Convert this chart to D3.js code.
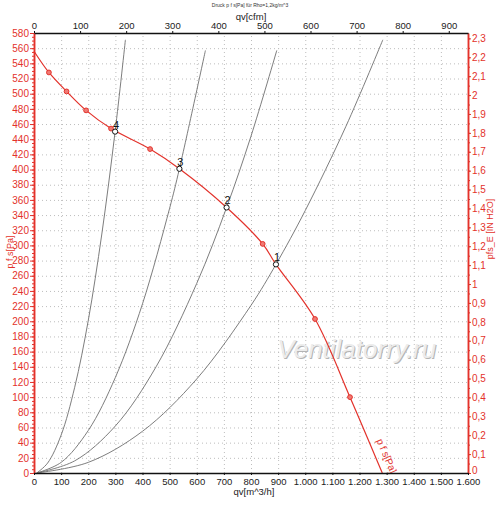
<!DOCTYPE html>
<html>
<head>
<meta charset="utf-8">
<script src="https://cdn.jsdelivr.net/npm/d3@7"></script>
<style>
  body { margin: 0; background: #fff; }
  svg { display: block; font-family: "Liberation Sans", Arial, sans-serif; }
  .grid line { stroke: #bdbdbd; stroke-dasharray: 1,3; }
  .grid .domain { display: none; }
</style>
</head>
<body>
<svg id="chart"></svg>
<script>
// fan curve p f s [Pa] over qv [m^3/h]
const fanFlow     = [0, 55, 120, 192, 284, 428, 536, 710, 843, 892, 1036, 1165, 1284];
const fanPressure = [556, 528, 503, 478, 454, 427, 401, 350, 302, 275, 203, 100, 0];
// which of the fan points carry a red marker
const fanMarked   = [false, true, true, true, true, true, false, false, true, false, true, true, false];

// operating points 1..4
const opLabels   = ['1', '2', '3', '4'];
const opFlow     = [892, 710, 536, 299];
const opPressure = [275, 350, 401, 450];

// system curves (grey), one flow/pressure pair per curve
const sysFlow = [
  [10, 200, 400, 600, 800, 892, 1000, 1150, 1286],
  [10, 150, 300, 450, 600, 710, 800, 895],
  [10, 100, 200, 300, 400, 500, 536, 632],
  [10, 50, 100, 150, 200, 250, 299, 337]
];
const sysPressure = [
  [0, 14, 55, 124, 221, 275, 346, 457, 571],
  [0, 16, 62, 140, 250, 350, 444, 557],
  [0, 14, 56, 126, 223, 349, 401, 557],
  [0, 13, 50, 113, 201, 315, 450, 571]
];

// axis ticks
const flowTicks  = d3.range(0, 1601, 100);   // m^3/h
const cfmTicks   = d3.range(0, 901, 100);    // cfm
const paTicks    = d3.range(0, 581, 20);     // Pa
const inchTicks  = d3.range(0, 24).map(d => d / 10); // in H2O

const W = 500, H = 506;
const margin = {top: 33, right: 32, bottom: 33, left: 34};
const red = '#e3322b';

const svg = d3.select('#chart').attr('width', W).attr('height', H);

const x = d3.scaleLinear().domain([0, 1600]).range([margin.left, W - margin.right]);
const y = d3.scaleLinear().domain([0, 580]).range([H - margin.bottom, margin.top]);
const xCfm = d3.scaleLinear().domain([0, 1600 / 1.699]).range(x.range());
const yInch = d3.scaleLinear().domain([0, 580 / 249.09]).range(y.range());

const fmtDe = d3.formatLocale({decimal: ',', thousands: '.', grouping: [3], currency: ['', '']});
const fmtFlow = fmtDe.format(',d');
const fmtInch = d => fmtDe.format('.1~f')(d);

// ---- GRID ----
svg.append('g').attr('class', 'grid')
  .attr('transform', `translate(0, ${y(0)})`)
  .call(d3.axisBottom(x).tickValues(flowTicks.slice(1, -1)).tickSize(-(y(0) - y(580))).tickFormat(''));
svg.append('g').attr('class', 'grid')
  .attr('transform', `translate(${x(0)}, 0)`)
  .call(d3.axisLeft(y).tickValues(paTicks.slice(1, -1)).tickSize(-(x(1600) - x(0))).tickFormat(''));

// watermark (embossed look: dark offset + light face)
const wmX = x(1190), wmY = y(152);
svg.append('text')
  .attr('x', wmX + 1).attr('y', wmY + 1)
  .attr('text-anchor', 'middle')
  .attr('font-size', 26).attr('font-style', 'italic')
  .attr('fill', '#b4b4b4')
  .text('Ventilatorry.ru');
svg.append('text')
  .attr('x', wmX).attr('y', wmY)
  .attr('text-anchor', 'middle')
  .attr('font-size', 26).attr('font-style', 'italic')
  .attr('fill', '#ececec')
  .text('Ventilatorry.ru');

// ---- SYSTEM CURVES ----
const line = d3.line().x(d => x(d[0])).y(d => y(d[1]));
sysFlow.forEach((flows, i) => {
  svg.append('path')
    .datum(flows.map((f, j) => [f, sysPressure[i][j]]))
    .attr('d', line.curve(d3.curveCatmullRom))
    .attr('fill', 'none')
    .attr('stroke', '#6e6e6e')
    .attr('stroke-width', 0.9);
});

// ---- FAN CURVE ----
const fanData = fanFlow.map((f, i) => ({q: f, p: fanPressure[i], mark: fanMarked[i]}));
svg.append('path')
  .datum(fanData)
  .attr('d', d3.line().x(d => x(d.q)).y(d => y(d.p)).curve(d3.curveCatmullRom))
  .attr('fill', 'none')
  .attr('stroke', red)
  .attr('stroke-width', 1.2);

svg.selectAll('.fanmark')
  .data(fanData.filter(d => d.mark))
  .join('circle')
  .attr('class', 'fanmark')
  .attr('cx', d => x(d.q)).attr('cy', d => y(d.p))
  .attr('r', 2.4)
  .attr('fill', '#f07a74')
  .attr('stroke', red)
  .attr('stroke-width', 1);

// curve label along the line end
const lA = fanData[fanData.length - 2], lB = fanData[fanData.length - 1];
const ang = Math.atan2(y(lB.p) - y(lA.p), x(lB.q) - x(lA.q)) * 180 / Math.PI;
svg.append('text')
  .attr('transform', `translate(${x(1262)}, ${y(43)}) rotate(${ang})`)
  .attr('font-size', 10)
  .attr('fill', red)
  .text('p f s[Pa]');

// ---- OPERATING POINTS ----
const ops = opLabels.map((l, i) => ({l: l, q: opFlow[i], p: opPressure[i]}));
svg.selectAll('.op')
  .data(ops)
  .join('circle')
  .attr('class', 'op')
  .attr('cx', d => x(d.q)).attr('cy', d => y(d.p))
  .attr('r', 2.6)
  .attr('fill', '#fff')
  .attr('stroke', '#111')
  .attr('stroke-width', 1);
svg.selectAll('.oplabel')
  .data(ops)
  .join('text')
  .attr('class', 'oplabel')
  .attr('x', d => x(d.q) + 1).attr('y', d => y(d.p) - 3)
  .attr('text-anchor', 'middle')
  .attr('font-size', 11)
  .attr('fill', '#111')
  .text(d => d.l);

// ---- AXES ----
function styleAxis(g, color, width) {
  g.select('.domain').attr('stroke', color).attr('stroke-width', width);
  g.selectAll('.tick line').attr('stroke', color);
  g.selectAll('.tick text').attr('fill', color).attr('font-size', 10)
    .attr('font-family', '"Liberation Sans", Arial, sans-serif');
}

// left, Pa
const gMinorL = svg.append('g').attr('transform', `translate(${x(0)}, 0)`)
  .call(d3.axisLeft(y).tickValues(d3.range(0, 581, 5)).tickSize(2).tickFormat('').tickSizeOuter(0));
styleAxis(gMinorL, red, 1.5);
const gLeft = svg.append('g').attr('transform', `translate(${x(0)}, 0)`)
  .call(d3.axisLeft(y).tickValues(paTicks).tickSize(4).tickPadding(1).tickSizeOuter(0));
styleAxis(gLeft, red, 1.5);

// right, in H2O
const gMinorR = svg.append('g').attr('transform', `translate(${x(1600)}, 0)`)
  .call(d3.axisRight(yInch).tickValues(d3.range(0, 2.33, 0.05)).tickSize(2).tickFormat('').tickSizeOuter(0));
styleAxis(gMinorR, red, 1.5);
const gRight = svg.append('g').attr('transform', `translate(${x(1600)}, 0)`)
  .call(d3.axisRight(yInch).tickValues(inchTicks).tickSize(3).tickPadding(1).tickFormat(fmtInch).tickSizeOuter(0));
styleAxis(gRight, red, 1.5);
// lift the bottom "0" so it clears the 1.600 label below
gRight.selectAll('.tick text').filter(d => d === 0).attr('dy', '0.05em');

// bottom, m^3/h
const gBottom = svg.append('g').attr('transform', `translate(0, ${y(0)})`)
  .call(d3.axisBottom(x).tickValues(flowTicks).tickSize(2).tickPadding(3).tickFormat(fmtFlow).tickSizeOuter(0));
styleAxis(gBottom, '#111', 1.6);
gBottom.selectAll('.tick text').attr('fill', '#222').attr('font-size', 9.5);

// top, cfm
const gTop = svg.append('g').attr('transform', `translate(0, ${y(580)})`)
  .call(d3.axisTop(xCfm).tickValues(cfmTicks).tickSize(2).tickPadding(2).tickSizeOuter(0));
styleAxis(gTop, '#111', 1.6);
gTop.selectAll('.tick text').attr('fill', '#222').attr('font-size', 9.5);

// ---- TITLES ----
svg.append('text')
  .attr('x', 250).attr('y', 7)
  .attr('text-anchor', 'middle')
  .attr('font-size', 5)
  .attr('fill', '#333')
  .text('Druck p f s[Pa] für Rho=1,2kg/m^3');
svg.append('text')
  .attr('x', 251).attr('y', 19.5)
  .attr('text-anchor', 'middle')
  .attr('font-size', 9.5)
  .attr('fill', '#222')
  .text('qv[cfm]');
svg.append('text')
  .attr('x', 254).attr('y', 495)
  .attr('text-anchor', 'middle')
  .attr('font-size', 9.5)
  .attr('fill', '#222')
  .text('qv[m^3/h]');
svg.append('text')
  .attr('transform', `translate(13, 252) rotate(-90)`)
  .attr('text-anchor', 'middle')
  .attr('font-size', 9)
  .attr('fill', red)
  .text('p f s[Pa]');
svg.append('text')
  .attr('transform', `translate(493, 229) rotate(-90)`)
  .attr('text-anchor', 'middle')
  .attr('font-size', 9)
  .attr('fill', red)
  .text('pfs_E [IN H2O]');
</script>
</body>
</html>
